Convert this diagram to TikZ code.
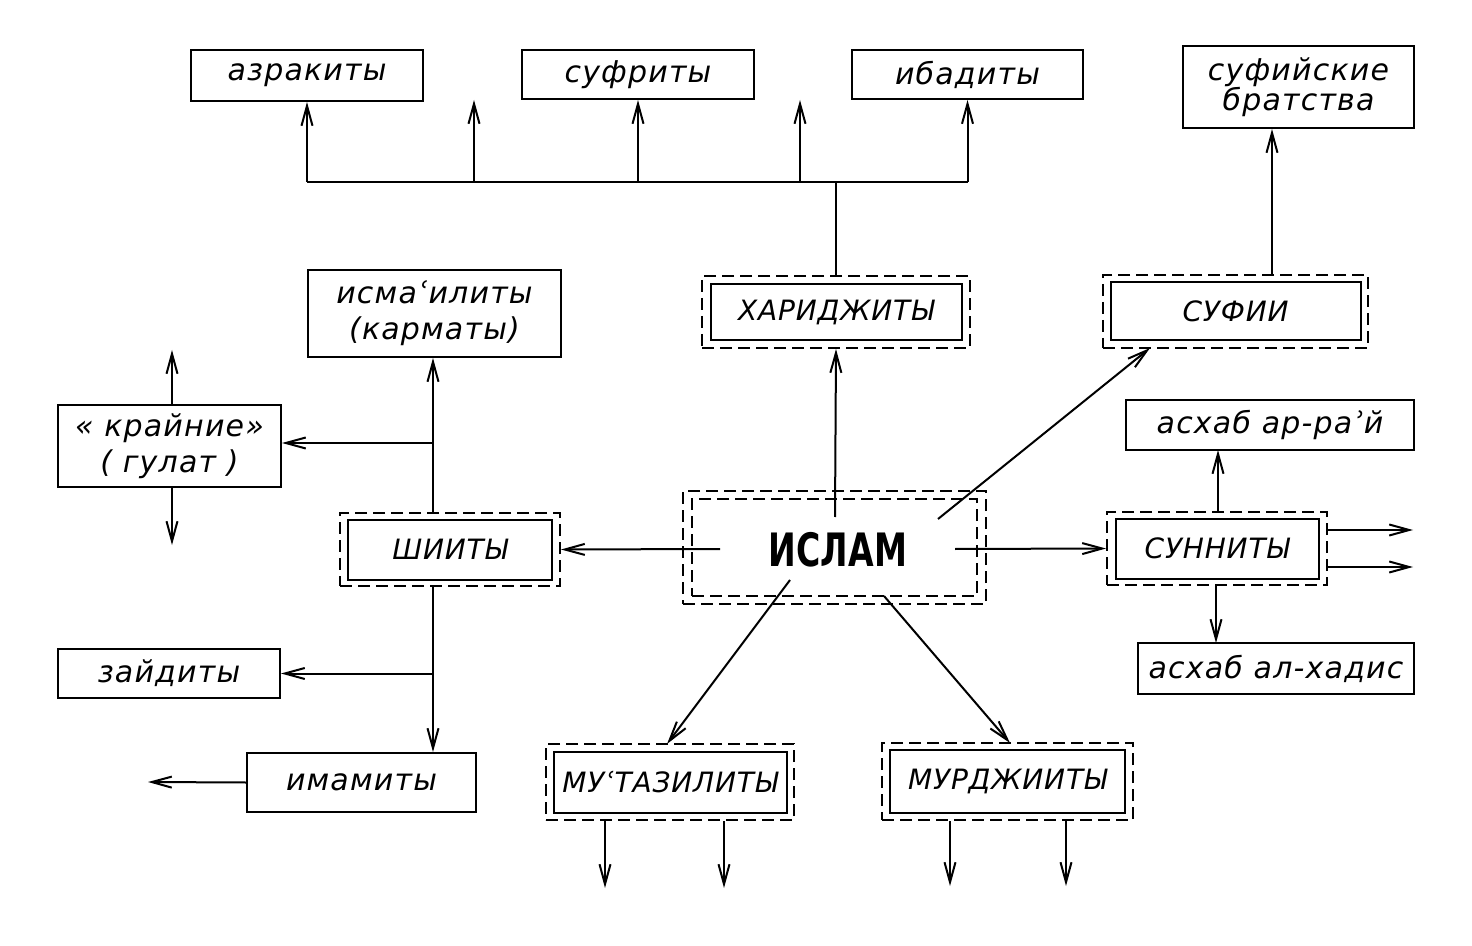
\documentclass[tikz,border=0pt]{standalone}
\usepackage{fontspec}
\setmainfont{DejaVu Sans}
\newfontfamily\labfont[LetterSpace=4]{DejaVu Sans}
\newfontfamily\capfont[LetterSpace=3]{DejaVu Sans}
\usetikzlibrary{arrows.meta}
\tikzset{
  lab/.style={font=\labfont\itshape\fontsize{15}{18}\selectfont, align=center, inner sep=0pt},
  caplab/.style={font=\capfont\itshape\fontsize{14}{17}\selectfont, align=center, inner sep=0pt},
  box/.style={draw, line width=1pt, rectangle, inner sep=0pt, align=center},
  dbox/.style={draw, line width=1pt, rectangle, inner sep=0pt, dash pattern=on 6pt off 3pt},
  conn/.style={line width=1pt},
  arr/.style={line width=1pt, -{Straight Barb[length=10pt,width=5.5pt]}}
}
\begin{document}
\begin{tikzpicture}[x=0.5pt,y=-0.5pt]
\useasboundingbox[fill=white] (0,0) rectangle (1472,946);
% single boxes
\node[box, lab, minimum width=116pt, minimum height=25.5pt] (azr) at (307,75.5) {азракиты};
\node[box, lab, minimum width=116pt, minimum height=24.5pt] (sufr) at (638,74.5) {суфриты};
\node[box, lab, minimum width=115.5pt, minimum height=24.5pt] (ibad) at (967.5,74.5) {ибадиты};
\node[box, lab, minimum width=115.5pt, minimum height=41pt] (brat) at (1298.5,87) {суфийские\\[-3pt]братства};
\node[box, lab, minimum width=126.5pt, minimum height=43.5pt] (isma) at (434.5,313.5) {исмаʿилиты\\(карматы)};
\node[box, lab, minimum width=111.5pt, minimum height=41pt] (kr) at (169.5,446) {« крайние»\\( гулат )};
\node[box, lab, minimum width=144pt, minimum height=25pt] (rai) at (1270,425) {асхаб ар-раʾй};
\node[box, lab, minimum width=138pt, minimum height=25.5pt] (hadis) at (1276,668.5) {асхаб ал-хадис};
\node[box, lab, minimum width=111pt, minimum height=24.5pt] (zaid) at (169,673.5) {зайдиты};
\node[box, lab, minimum width=114.5pt, minimum height=29.5pt] (imam) at (361.5,782.5) {имамиты};
% double boxes
\node[dbox, minimum width=134pt, minimum height=36pt] (khar) at (836,312) {};
\node[box, caplab, minimum width=125.5pt, minimum height=28pt] (khari) at (836,312) {ХАРИДЖИТЫ};
\node[dbox, minimum width=132.5pt, minimum height=36.5pt] (sufi) at (1235.5,311.5) {};
\node[box, caplab, minimum width=125pt, minimum height=29pt] (sufii) at (1235.5,311.5) {СУФИИ};
\node[dbox, minimum width=151.5pt, minimum height=56.5pt] (islam) at (834.5,547.5) {};
\node[dbox, minimum width=142.5pt, minimum height=48.5pt] (islami) at (834.5,547.5) {};
\node[font=\bfseries\fontsize{23}{26}\selectfont, inner sep=0pt] (islamt) at (838,550) {\scalebox{0.72}[1]{ИСЛАМ}};
\node[dbox, minimum width=110pt, minimum height=36.5pt] (shi) at (450,549.5) {};
\node[box, caplab, minimum width=102pt, minimum height=30pt] (shii) at (450,549.5) {ШИИТЫ};
\node[dbox, minimum width=110pt, minimum height=36.5pt] (sunn) at (1217,548.5) {};
\node[box, caplab, minimum width=101.5pt, minimum height=30pt] (sunni) at (1217,548.5) {СУННИТЫ};
\node[dbox, minimum width=124pt, minimum height=38pt] (mut) at (670,782) {};
\node[box, caplab, minimum width=116.5pt, minimum height=30.5pt] (muti) at (670,782) {МУʿТАЗИЛИТЫ};
\node[dbox, minimum width=125.5pt, minimum height=38.5pt] (murj) at (1007.5,781.5) {};
\node[box, caplab, minimum width=117.5pt, minimum height=31.5pt] (murji) at (1007.5,781.5) {МУРДЖИИТЫ};
% coordinates
\coordinate (tl) at (308,182);
\coordinate (f1) at (474,100);
\coordinate (f2) at (800,100);
\coordinate (bv) at (1272,128);
\coordinate (iN) at (835,517);
\coordinate (iNE) at (938,519);
\coordinate (sS) at (1150,348);
\coordinate (iW) at (720,549);
\coordinate (iE) at (955,549);
\coordinate (iSW) at (790,580);
\coordinate (iSE) at (884,596);
\coordinate (mN) at (667,744);
\coordinate (rN) at (1010,743);
\coordinate (sv) at (433,443);
\coordinate (kup) at (172,350);
\coordinate (kdn) at (172,545);
\coordinate (f3) at (148,782);
\coordinate (su) at (1218,450);
\coordinate (sd) at (1216,643);
\coordinate (r1) at (1413,530);
\coordinate (r2) at (1413,567);
\coordinate (m1) at (605,888);
\coordinate (m2) at (724,888);
\coordinate (m3) at (950,886);
\coordinate (m4) at (1066,886);
% top tree
\draw[conn] (azr.south |- tl) -- (ibad.south |- tl);
\draw[conn] (khar.north) -- (khar.north |- tl);
\draw[arr] (azr.south |- tl) -- (azr.south);
\draw[arr] (f1 |- tl) -- (f1);
\draw[arr] (sufr.south |- tl) -- (sufr.south);
\draw[arr] (f2 |- tl) -- (f2);
\draw[arr] (ibad.south |- tl) -- (ibad.south);
\draw[arr] (sufi.north -| bv) -- (brat.south -| bv);
% from islam
\draw[arr] (iN) -- (khar.south);
\draw[arr] (iNE) -- (sS);
\draw[arr] (iW) -- (shi.east);
\draw[arr] (iE) -- (sunn.west);
\draw[arr] (iSW) -- (mN);
\draw[arr] (iSE) -- (rN);
% shiites
\draw[arr] (shi.north -| sv) -- (isma.south -| sv);
\draw[arr] (sv) -- (kr.east |- sv);
\draw[arr] (kr.north -| kup) -- (kup);
\draw[arr] (kr.south -| kdn) -- (kdn);
\draw[arr] (shi.south -| sv) -- (imam.north -| sv);
\draw[arr] (sv |- zaid.east) -- (zaid.east);
\draw[arr] (imam.west) -- (f3);
% sunnites
\draw[arr] (sunn.north -| su) -- (su);
\draw[arr] (sunn.south -| sd) -- (sd);
\draw[arr] (sunn.east |- r1) -- (r1);
\draw[arr] (sunn.east |- r2) -- (r2);
% bottom
\draw[arr] (mut.south -| m1) -- (m1);
\draw[arr] (mut.south -| m2) -- (m2);
\draw[arr] (murj.south -| m3) -- (m3);
\draw[arr] (murj.south -| m4) -- (m4);
\end{tikzpicture}
\end{document}
